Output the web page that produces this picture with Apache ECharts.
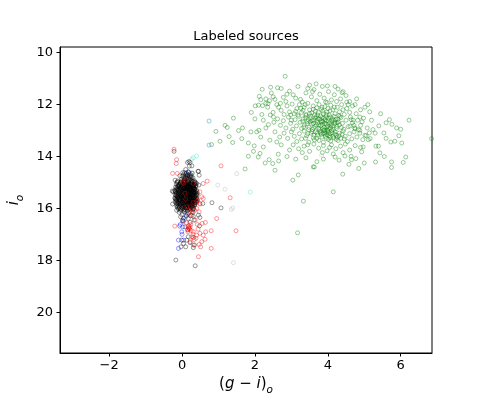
<!DOCTYPE html>
<html><head><meta charset="utf-8">
<script src="https://cdn.jsdelivr.net/npm/echarts@6/dist/echarts.min.js"></script>
<style>html,body{margin:0;padding:0;background:#fff}#c{width:480px;height:397px}</style>
</head><body><div id="c"></div>
<script>
const xTicks = [-2, 0, 2, 4, 6];
const yTicks = [10, 12, 14, 16, 18, 20];

const greenPts = [
[2.83,10.91],[2.20,11.41],[2.43,11.33],[2.72,11.38],[2.12,11.68],[2.16,11.81],[2.30,11.78],[2.10,12.02],[2.21,12.04],[2.36,11.96],[2.01,12.05],
[2.19,12.38],[2.23,12.60],[2.37,12.77],[2.51,12.48],[1.41,12.52],[0.93,13.03],[1.18,12.80],[1.24,12.88],[1.66,12.90],[1.89,13.05],[2.11,12.99],
[1.29,13.23],[1.39,13.46],[1.04,13.41],[1.64,13.31],[1.82,13.48],[1.98,13.59],[2.16,13.25],[2.23,13.63],[2.41,13.37],[2.60,13.44],[1.96,13.80],
[1.82,13.99],[2.09,14.02],[2.14,13.88],[2.39,14.12],[2.49,14.27],[2.65,14.17],[2.64,13.91],[2.28,14.25],[2.55,14.53],[1.73,14.48],[3.04,14.91],
[3.19,14.71],[3.33,15.72],[3.60,14.40],[0.81,13.54],[3.17,16.94],[4.15,15.36],[4.41,14.68],
[6.23,12.60],[5.69,12.58],[5.76,12.76],[5.89,12.90],[5.40,12.82],[5.54,13.09],[5.73,13.44],[5.84,13.41],[6.03,13.48],[6.14,14.02],[6.07,14.23],
[5.75,14.21],[5.75,14.42],[5.31,14.21],[5.43,13.86],[5.32,13.60],[5.39,13.60],[5.20,12.60],[5.15,12.28],[4.88,12.48],[4.79,11.78],[4.75,12.00],
[4.39,11.54],[3.99,11.28],[4.85,14.46],[3.63,14.40],[3.88,14.10],[4.20,14.02],[4.31,14.14],[4.47,13.98],[4.64,13.99],[4.65,14.12],
[4.77,14.08],[4.93,13.82],[4.97,13.63],[5.11,13.35],[5.16,13.31],[5.14,13.09],[5.02,13.18],[4.88,12.99],[4.75,12.93],[4.61,12.83],[4.70,12.60],[6.85,13.31],
[2.3,11.95],[2.5,11.7],[2.65,12.1],[2.4,11.85],[2.7,11.95],
[2.45,11.55],[2.62,11.35],[2.78,11.72],[2.95,11.48],[3.05,11.62],[3.18,11.3],[3.25,11.8],[3.4,11.55],[3.5,11.25],[3.55,11.7],[3.62,11.42],[3.7,11.85],
[3.78,11.6],[3.85,11.3],[3.9,11.75],[4.02,11.5],[4.1,11.82],[4.18,11.62],[4.28,11.4],[4.35,11.78],[4.5,11.65],[4.6,11.88],[3.3,11.9],[2.85,11.88],
[3.98,11.92],[3.45,11.38],[2.55,11.8],[4.42,11.5],[3.12,11.75],[3.68,11.2],
[2.35,12.1],[2.5,12.3],[2.6,12.0],[2.72,12.22],[2.8,12.38],[2.88,12.05],[2.95,12.28],[3.02,11.98],[3.08,12.35],[3.15,12.15],[3.22,12.0],[3.28,12.3],
[3.35,12.1],[3.4,12.38],[3.45,11.95],[3.5,12.2],[3.56,12.32],[3.6,12.05],[3.66,12.25],[3.72,12.4],[3.76,12.0],[3.82,12.18],[3.88,12.35],[3.92,12.08],
[3.98,12.28],[4.04,12.4],[4.08,12.02],[4.14,12.2],[4.2,12.35],[4.26,12.1],[4.32,12.28],[4.38,12.0],[4.45,12.38],[4.52,12.15],[4.6,12.3],[4.68,12.05],
[4.78,12.35],[4.9,12.2],[5.02,12.1],[2.42,12.4],[3.18,12.4],[3.7,12.12],[4.0,12.15],[3.32,12.22],[3.86,12.25],
[2.62,12.55],[2.7,12.8],[2.78,12.62],[2.85,12.9],[2.92,12.48],[2.98,12.72],[3.04,12.95],[3.1,12.58],[3.14,12.82],[3.2,12.45],[3.24,12.68],[3.28,12.92],
[3.32,12.55],[3.36,12.78],[3.4,12.42],[3.44,12.65],[3.48,12.88],[3.52,12.52],[3.55,12.74],[3.58,12.96],[3.62,12.6],[3.65,12.84],[3.68,12.46],[3.72,12.7],
[3.75,12.92],[3.78,12.56],[3.81,12.8],[3.84,12.5],[3.87,12.66],[3.9,12.88],[3.93,12.58],[3.96,12.76],[3.99,12.98],[4.02,12.52],[4.05,12.7],[4.08,12.9],
[4.11,12.62],[4.14,12.82],[4.17,12.45],[4.2,12.68],[4.24,12.92],[4.28,12.56],[4.32,12.78],[4.36,12.5],[4.4,12.72],[4.44,12.95],[4.5,12.6],[4.56,12.85],
[4.62,12.48],[4.68,12.7],[4.74,12.9],[4.82,12.6],[4.9,12.8],[4.98,12.52],[3.0,12.6],[3.46,12.58],[3.7,12.62],[3.96,12.64],[4.1,12.74],[3.6,12.72],
[3.86,12.94],[3.34,12.86],[4.26,12.7],[3.76,12.78],[4.0,12.84],[3.52,12.66],[3.92,12.72],[4.16,12.6],[3.66,12.52],[3.82,12.68],
[2.8,13.1],[2.9,13.3],[3.0,13.05],[3.08,13.22],[3.15,13.42],[3.22,13.12],[3.28,13.32],[3.35,13.02],[3.42,13.2],[3.48,13.45],[3.54,13.1],[3.6,13.28],
[3.66,13.05],[3.72,13.18],[3.76,13.38],[3.8,13.08],[3.84,13.25],[3.88,13.45],[3.92,13.12],[3.96,13.3],[4.0,13.02],[4.04,13.2],[4.08,13.4],[4.12,13.08],
[4.16,13.28],[4.2,13.05],[4.24,13.18],[4.28,13.38],[4.32,13.1],[4.36,13.3],[4.42,13.02],[4.48,13.22],[4.54,13.42],[4.6,13.12],[4.66,13.32],[4.72,13.05],
[4.8,13.25],[4.88,13.1],[4.96,13.35],[5.05,13.2],[3.9,13.0],[4.06,13.12],[3.7,13.3],[3.98,13.16],[4.14,13.22],[3.82,13.15],[4.26,13.26],[4.02,13.34],
[3.62,13.18],[3.94,13.06],
[3.05,13.55],[3.2,13.7],[3.35,13.6],[3.5,13.8],[3.62,13.52],[3.75,13.68],[3.88,13.58],[3.98,13.78],[4.1,13.55],[4.22,13.7],[4.35,13.6],[4.48,13.52],
[4.6,13.75],[4.75,13.58],[4.9,13.65],[3.45,13.55],[4.05,13.65],[3.3,13.85],[3.85,13.85],[4.15,13.9],
[3.31,12.64],[3.39,12.5],[3.43,12.74],[3.47,12.96],[3.53,12.44],[3.57,12.62],[3.61,12.9],[3.64,12.4],[3.69,12.78],[3.73,12.54],[3.77,12.96],[3.8,12.44],
[3.83,12.62],[3.85,12.76],[3.89,12.52],[3.91,12.98],[3.95,12.46],[3.97,12.86],[4.01,12.62],[4.03,12.92],[4.07,12.48],[4.09,12.8],[4.13,12.54],[4.15,12.96],
[4.19,12.74],[4.22,12.58],[4.25,12.84],[4.29,12.66],[4.33,12.46],[4.37,12.88],[3.79,13.02],[3.87,13.1],[3.93,13.22],[4.01,13.08],[4.07,13.26],[4.11,13.0],
[4.19,13.14],[4.23,13.34],[3.71,13.1],[3.63,13.36],[3.57,13.04],[3.45,13.12],[3.39,13.3],[4.31,13.2],[4.39,13.14],[4.45,13.32],[3.5,12.35],[3.6,12.18],
[3.74,12.3],[3.84,12.1],[3.96,12.38],[4.06,12.24],[4.18,12.1],[4.3,12.42],[4.42,12.2],[3.26,12.14],[3.12,12.26],[2.98,12.4],[3.38,12.0],[3.94,11.9],
[4.24,11.88],[4.56,12.0],[4.64,12.58],[4.72,12.8],[4.84,12.96],[4.94,12.66],[5.08,12.9],[5.24,12.96],[5.3,13.1],[5.45,12.35],[5.6,12.7],[5.1,12.0],
[2.55,13.05],[2.68,13.25],[2.72,13.55],[2.95,13.75],[2.88,14.0],[3.12,14.1],[3.4,14.05],[3.7,14.2],[4.42,13.85],[4.58,14.3],[5.0,14.25],[5.6,13.3],
[6.0,12.95],[5.95,13.2],[5.55,14.0],[2.52,12.68],[2.3,12.9],[2.05,13.05],[1.55,13.0],[1.9,12.3],[2.0,12.55],[2.88,11.6],[3.58,11.5],[4.2,11.3],[4.52,11.9]
];

const blackPts = [
[0.02,14.62],[0.1,14.68],[0.18,14.6],[0.25,14.72],[0.05,14.8],[0.14,14.78],[0.22,14.86],[0.3,14.82],[-0.02,14.88],[0.08,14.9],[0.16,14.7],[0.28,14.64],[0.12,14.85],[0.2,14.76],[-0.06,14.74],
[0.04,14.7],[0.12,14.64],[0.22,14.66],[0.06,14.86],[0.18,14.82],[0.26,14.8],[0.0,14.76],[0.1,14.76],
[-0.14,15.0],[-0.08,15.12],[-0.02,14.95],[0.03,15.08],[0.07,15.18],[0.1,14.98],[0.13,15.1],[0.16,15.2],[0.19,15.02],[0.22,15.14],[0.25,14.94],[0.28,15.06],[0.31,15.16],[0.35,15.0],[0.38,15.12],
[-0.11,15.16],[0.0,15.2],[0.05,14.92],[0.12,15.04],[0.18,15.14],[0.24,15.04],[0.3,14.96],[0.33,15.2],[-0.05,15.04],[0.09,15.14],[0.15,14.96],[0.21,15.18],[0.27,15.12],[0.02,15.14],[0.36,15.06],
[-0.12,14.94],[-0.04,15.0],[0.01,15.02],[0.06,15.0],[0.11,15.08],[0.14,15.16],[0.17,15.06],[0.2,14.92],[0.23,15.1],[0.26,15.0],[0.29,15.18],[0.32,15.08],[0.34,14.94],[0.4,15.04],[-0.09,15.08],[0.04,15.16],
[-0.2,15.3],[-0.16,15.42],[-0.12,15.24],[-0.08,15.36],[-0.04,15.48],[0.0,15.28],[0.03,15.4],[0.06,15.22],[0.09,15.34],[0.12,15.46],[0.15,15.26],[0.18,15.38],[0.21,15.5],[0.24,15.3],[0.27,15.42],
[0.3,15.24],[0.33,15.36],[0.36,15.48],[0.4,15.3],[0.42,15.42],[-0.14,15.48],[-0.02,15.22],[0.05,15.5],[0.11,15.3],[0.17,15.44],[0.23,15.24],[0.29,15.46],[0.35,15.28],[-0.1,15.3],[0.01,15.36],
[0.07,15.44],[0.13,15.38],[0.19,15.28],[0.25,15.44],[0.31,15.32],[0.38,15.4],[-0.06,15.26],[0.1,15.24],[0.2,15.34],[0.28,15.36],
[-0.18,15.36],[-0.13,15.3],[-0.07,15.42],[-0.03,15.32],[0.02,15.46],[0.04,15.26],[0.08,15.28],[0.1,15.4],[0.14,15.32],[0.16,15.5],[0.2,15.42],[0.22,15.28],
[0.26,15.36],[0.28,15.5],[0.32,15.42],[0.34,15.26],[0.37,15.34],[0.4,15.46],[-0.11,15.44],[0.0,15.44],[0.06,15.34],[0.24,15.48],[0.18,15.24],[0.3,15.3],
[-0.2,15.6],[-0.16,15.72],[-0.12,15.54],[-0.08,15.66],[-0.04,15.78],[0.0,15.58],[0.03,15.7],[0.06,15.52],[0.09,15.64],[0.12,15.76],[0.15,15.56],[0.18,15.68],[0.21,15.8],[0.24,15.6],[0.27,15.72],
[0.3,15.54],[0.33,15.66],[0.36,15.78],[0.4,15.6],[0.42,15.7],[-0.14,15.78],[-0.02,15.52],[0.05,15.8],[0.11,15.6],[0.17,15.74],[0.23,15.54],[0.29,15.76],[0.35,15.58],[-0.1,15.6],[0.01,15.66],
[0.07,15.74],[0.13,15.68],[0.19,15.58],[0.25,15.74],[0.31,15.62],[0.38,15.7],[-0.06,15.56],[0.1,15.54],[0.2,15.64],[0.28,15.66],
[-0.18,15.66],[-0.13,15.6],[-0.07,15.72],[-0.03,15.62],[0.02,15.76],[0.04,15.56],[0.08,15.58],[0.1,15.7],[0.14,15.62],[0.16,15.8],[0.2,15.72],[0.22,15.58],
[0.26,15.66],[0.28,15.8],[0.32,15.72],[0.34,15.56],[0.37,15.64],[0.4,15.76],[-0.11,15.74],[0.0,15.74],[0.06,15.64],[0.24,15.78],[0.18,15.54],[0.3,15.6],
[-0.15,15.9],[-0.1,16.02],[-0.05,15.84],[0.0,15.96],[0.04,16.08],[0.08,15.88],[0.12,16.0],[0.16,15.82],[0.2,15.94],[0.24,16.06],[0.28,15.86],[0.32,15.98],[0.35,15.84],[-0.12,15.82],[-0.02,16.06],
[0.06,15.92],[0.14,16.08],[0.22,15.84],[0.3,16.04],[0.1,15.86],[0.18,16.02],[0.26,15.96],[-0.07,15.94],[0.02,15.86],[0.15,15.96],
[-0.13,15.96],[-0.08,15.88],[-0.03,16.0],[0.02,15.92],[0.06,16.04],[0.1,15.98],[0.13,15.9],[0.17,15.88],[0.21,16.0],[0.25,15.9],[0.29,15.94],[0.33,15.9],[0.09,16.06],[-0.05,16.08],
[-0.09,15.14],[-0.01,15.1],[0.08,15.06],[0.15,15.12],[0.26,15.16],[0.33,15.12],[-0.15,15.2],[-0.05,15.18],[0.05,15.24],[0.12,15.2],[0.22,15.22],[0.32,15.22],
[-0.17,15.5],[-0.09,15.52],[-0.01,15.54],[0.08,15.5],[0.14,15.52],[0.22,15.46],[0.3,15.5],[0.38,15.52],[-0.15,15.64],[-0.05,15.68],[0.04,15.62],[0.12,15.64],
[0.16,15.66],[0.26,15.6],[0.35,15.68],[-0.09,15.8],[0.0,15.82],[0.08,15.8],[0.14,15.78],[0.19,15.84],[0.27,15.82],[0.33,15.8],[-0.1,15.4],[0.04,15.34],
[0.16,15.36],[0.26,15.28],[0.36,15.38],[-0.02,15.42],[0.09,14.82],[0.17,14.88],[0.27,14.9],[0.03,14.98],[0.21,15.06],[0.14,14.72],[0.07,14.62],[0.24,14.78],
[-0.13,14.98],[-0.03,14.99],[0.07,14.97],[0.17,15.0],[0.27,14.98],[0.37,14.99],[-0.16,15.06],[-0.06,15.07],[0.04,15.05],[0.14,15.04],[0.24,15.07],[0.34,15.05],
[-0.12,15.12],[-0.02,15.13],[0.08,15.11],[0.18,15.1],[0.28,15.13],[0.38,15.15],[-0.18,15.18],[-0.08,15.2],[0.02,15.19],[0.12,15.17],[0.22,15.19],[0.32,15.18],
[-0.15,15.26],[-0.05,15.24],[0.05,15.27],[0.15,15.23],[0.25,15.25],[0.35,15.24],[-0.19,15.33],[-0.09,15.32],[0.01,15.31],[0.11,15.34],[0.21,15.32],[0.31,15.35],[0.41,15.35],
[-0.15,15.39],[-0.05,15.38],[0.05,15.4],[0.15,15.41],[0.25,15.39],[0.35,15.42],[-0.19,15.46],[-0.09,15.47],[0.01,15.48],[0.11,15.45],[0.21,15.46],[0.31,15.47],[0.41,15.49],
[-0.15,15.54],[-0.05,15.53],[0.05,15.55],[0.15,15.54],[0.25,15.52],[0.35,15.53],[-0.19,15.61],[-0.09,15.62],[0.01,15.6],[0.11,15.63],[0.21,15.61],[0.31,15.62],[0.41,15.64],
[-0.15,15.68],[-0.05,15.69],[0.05,15.67],[0.15,15.7],[0.25,15.68],[0.35,15.71],[-0.19,15.76],[-0.09,15.75],[0.01,15.77],[0.11,15.74],[0.21,15.76],[0.31,15.77],[0.39,15.74],
[-0.15,15.83],[-0.05,15.82],[0.05,15.84],[0.15,15.85],[0.25,15.83],[0.35,15.86],[-0.11,15.91],[-0.01,15.9],[0.09,15.92],[0.19,15.91],[0.29,15.89],
[-0.08,15.98],[0.02,16.0],[0.12,15.97],[0.22,15.99],[0.31,16.02],
[-0.08,16.15],[0.0,16.25],[0.06,16.12],[0.12,16.3],[0.18,16.18],[0.24,16.28],[0.3,16.14],[0.04,16.38],[0.15,16.22],[-0.04,16.32],
[-0.22,13.8],[0.15,14.23],[0.22,14.23],[0.27,14.36],[0.2,14.37],[0.45,14.57],[0.1,14.5],[0.19,14.19],[0.44,14.57],[0.47,14.72],[-0.19,14.91],[0.46,15.1],
[-0.27,15.33],[-0.24,15.36],[-0.26,15.83],[0.57,15.81],[0.82,15.78],[1.07,15.98],[-0.15,16.07],[0.31,16.3],[0.33,16.45],[0.49,16.35],[0.48,16.67],[0.01,16.48],
[0.08,16.71],[0.04,17.35],[-0.03,17.48],[0.22,17.32],[-0.17,17.99],[0.36,18.21],[0.31,17.12],[0.17,17.09],[0.16,16.83],[0.22,16.54],[-0.01,17.22],[0.34,17.41],
[0.1,17.48],[0.45,16.26],[0.13,17.22],[0.31,17.51],[0.17,16.39],[0.04,16.49]
];

const redPts = [
[-0.22,13.72],[-0.15,14.12],[-0.16,14.27],[-0.26,14.65],[-0.13,14.65],[1.07,14.36],[0.69,14.95],[1.32,15.59],[0.95,16.39],[1.48,16.86],[0.8,16.86],[0.64,16.54],
[-0.2,16.68],[0.45,17.86],[0.8,17.54],[0.63,17.19],[0.51,17.48],[0.1,15.64],[0.04,15.04],[0.31,15.04],[0.08,15.42],[0.58,15.04],[0.02,15.0],[0.11,14.91],
[0.49,15.36],[0.54,15.55],[0.4,15.74],[0.49,15.83],[0.58,15.62],[0.4,16.0],[0.27,16.13],[0.22,16.15],[0.27,16.26],[0.36,16.45],[0.2,16.77],[0.31,16.9],
[0.4,17.03],[0.27,17.09],[0.38,17.15],[0.49,16.96],[0.54,17.28],[0.22,17.28],[0.31,17.41],[0.47,17.39],[0.58,17.03],[0.65,16.9],[0.42,16.62],[0.47,16.13],
[0.35,16.07],[0.49,15.81],[0.43,15.68],[0.31,15.77],[0.22,15.94],[0.13,15.94],[0.16,16.9],[0.24,16.62],[0.17,16.7],[0.2,16.8],[0.18,16.75],[0.22,16.72],
[0.15,16.82],[0.19,16.66],[0.25,16.85],[0.55,16.58],[0.12,16.55],[0.33,17.2],[0.3,17.0],[0.44,16.8]
];

const bluePts = [
[-0.05,16.62],[0.02,16.71],[-0.01,16.9],[-0.1,17.22],[0.04,17.22],[-0.1,17.54],[0.11,16.26],[0.02,16.45],[0.17,14.59],[-0.07,16.68],[0.0,17.0]
];

const aquaPts = [
[0.31,14.04],[0.40,13.98],[0.27,14.1],[0.27,14.63],[1.87,15.37]
];

const tealPts = [
[0.74,12.63],[0.74,13.56]
];

const grayPts = [
[1.50,14.66],[0.98,15.1],[1.18,15.26],[1.39,15.98],[1.35,16.04],[1.41,18.09],[3.83,13.95]
];

const FONT = 'DejaVu Sans';
function scat(name, data, color) {
  return {
    name, type: 'scatter', data, symbol: 'circle', symbolSize: 4,
    itemStyle: { color: 'rgba(0,0,0,0)', borderColor: color, borderWidth: 1 },
    emphasis: { disabled: true }, animation: false
  };
}
const fmt = v => (v < 0 ? '\u2212' + (-v) : String(v));

const chart = echarts.init(document.getElementById('c'), null, { renderer: 'canvas' });
chart.setOption({
  animation: false,
  backgroundColor: '#fff',
  grid: { left: 60, right: 48, top: 47, bottom: 44, containLabel: false, outerBoundsMode: 'none',
          show: true, borderColor: '#000', borderWidth: 1, backgroundColor: 'transparent' },
  xAxis: {
    type: 'value', min: -3.35, max: 6.86,
    splitLine: { show: false },
    axisLine: { show: true, onZero: false, lineStyle: { color: '#000', width: 1 } },
    axisTick: { show: true, customValues: xTicks, length: 3.5, lineStyle: { color: '#000' } },
    axisLabel: { customValues: xTicks, formatter: fmt, color: '#000', fontFamily: FONT, fontSize: 13, margin: 6 },
    name: '{p|(}{i|g}{p| \u2212 }{i|i}{p|)}{s|o}',
    nameLocation: 'middle', nameGap: 20,
    nameTextStyle: {
      color: '#000', fontFamily: FONT, fontSize: 15,
      rich: {
        p: { fontFamily: FONT, fontSize: 15, color: '#000', verticalAlign: 'middle', lineHeight: 18 },
        i: { fontFamily: FONT, fontSize: 15, fontStyle: 'italic', color: '#000', verticalAlign: 'middle', lineHeight: 18 },
        s: { fontFamily: FONT, fontSize: 10.5, fontStyle: 'italic', color: '#000', verticalAlign: 'bottom', lineHeight: 22 }
      }
    }
  },
  yAxis: {
    type: 'value', min: 9.78, max: 21.57, inverse: true,
    splitLine: { show: false },
    axisLine: { show: true, onZero: false, lineStyle: { color: '#000', width: 1 } },
    axisTick: { show: true, customValues: yTicks, length: 3.5, lineStyle: { color: '#000' } },
    axisLabel: { customValues: yTicks, formatter: fmt, color: '#000', fontFamily: FONT, fontSize: 13, margin: 7 },
    name: '{i|i}{s|o}',
    nameLocation: 'middle', nameGap: 26, nameRotate: 90,
    nameTextStyle: {
      color: '#000', fontFamily: FONT, fontSize: 15,
      rich: {
        i: { fontFamily: FONT, fontSize: 15, fontStyle: 'italic', color: '#000', verticalAlign: 'middle', lineHeight: 18 },
        s: { fontFamily: FONT, fontSize: 10.5, fontStyle: 'italic', color: '#000', verticalAlign: 'bottom', lineHeight: 22 }
      }
    }
  },
  graphic: [{
    type: 'text', x: 246, y: 37,
    style: { text: 'Labeled sources', fill: '#000', font: '13px "DejaVu Sans"', textAlign: 'center', textVerticalAlign: 'middle' }
  }],
  series: [
    scat('green', greenPts, 'rgba(0,128,0,0.5)'),
    scat('gray', grayPts, 'rgba(190,190,190,0.6)'),
    scat('teal', tealPts, 'rgba(40,150,180,0.6)'),
    scat('aqua', aquaPts, 'rgba(100,240,210,0.7)'),
    scat('black', blackPts, 'rgba(0,0,0,0.5)'),
    scat('red', redPts, 'rgba(255,0,0,0.5)'),
    scat('blue', bluePts, 'rgba(0,0,255,0.5)')
  ]
});
</script></body></html>
